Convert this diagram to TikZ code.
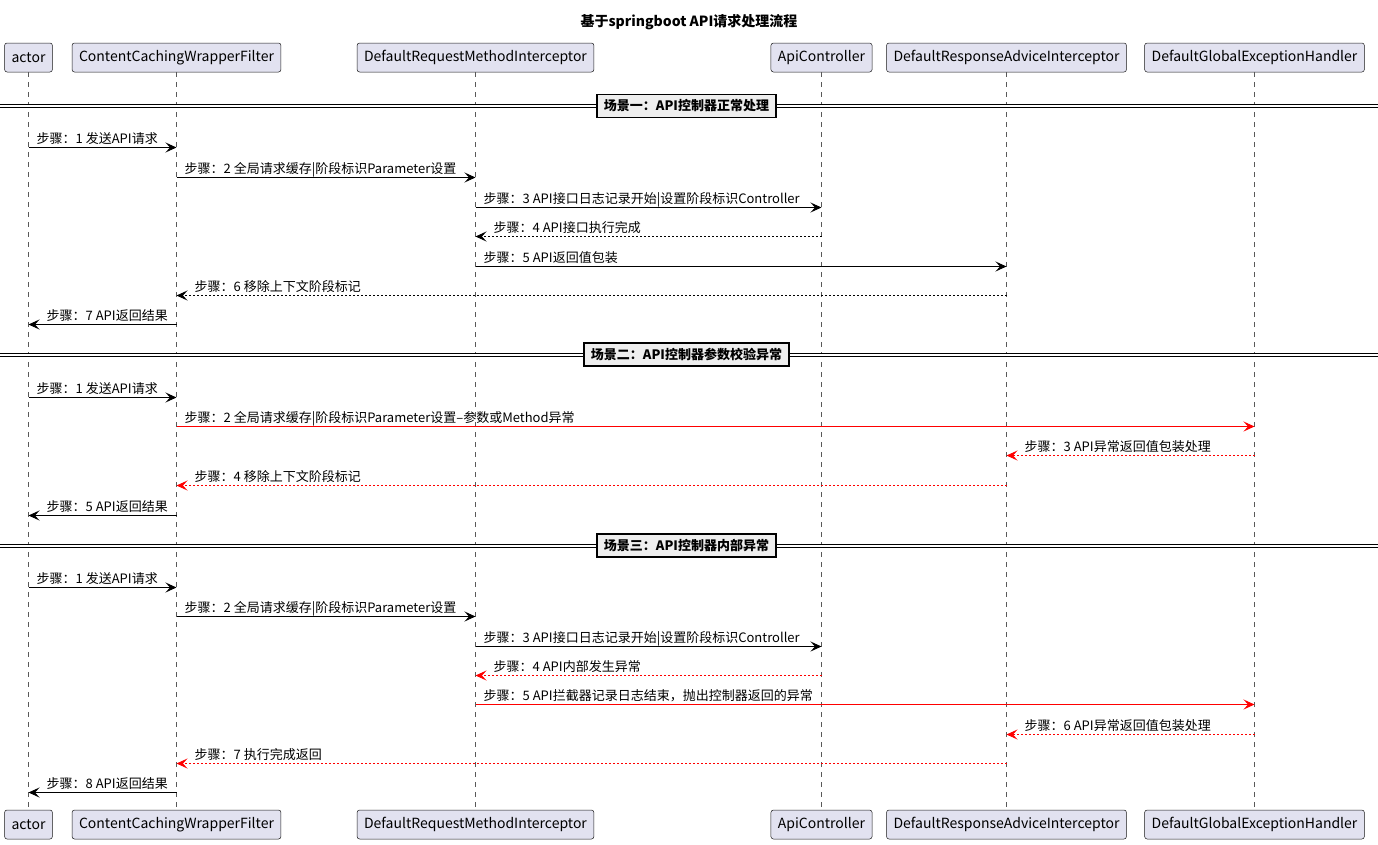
\documentclass[tikz,border=0pt]{standalone}
\usepackage{fontspec}
\setmainfont{Noto Sans CJK SC}
\usetikzlibrary{arrows.meta,calc}
\definecolor{partfill}{HTML}{E2E2F0}
\definecolor{partdraw}{HTML}{181818}
\definecolor{sepfill}{HTML}{EEEEEE}
\definecolor{errred}{HTML}{FF0000}
\newcommand\msgR[6]{%
  \draw[#5] (#2 |- 0,#4+0.5) -- (#3 |- 0,#4+0.5);
  \node[lbl] (#1) at ($(#2 |- 0,#4)+(8,-4)$) {#6};}
\newcommand\msgL[6]{%
  \draw[#5] (#2 |- 0,#4+0.5) -- (#3 |- 0,#4+0.5);
  \node[lbl] (#1) at ($(#3 |- 0,#4)+(18,-4)$) {#6};}
\newcommand\scenesep[3]{%
  \draw[double, double distance=2pt, line width=1pt] (0,#2) -- (1378,#2);
  \node[sepbox] (#1) at (686.5,#2) {#3};}
\begin{document}
\begin{tikzpicture}[x=1pt,y=-1pt,
  part/.style={draw=partdraw, fill=partfill, rounded corners=2.5pt, line width=0.5pt,
    minimum height=29pt, inner xsep=7pt, inner ysep=0pt, font=\fontsize{14}{16}\selectfont},
  life/.style={draw=black!65, line width=0.5pt, dash pattern=on 5pt off 5pt},
  msg/.style={line width=1pt, -{Stealth[length=11pt,width=10pt,inset=4.5pt]}},
  ret/.style={msg, dash pattern=on 2pt off 2pt},
  err/.style={draw=errred, color=errred},
  lbl/.style={font=\fontsize{13}{15}\selectfont, inner sep=0pt, anchor=base west},
  sepbox/.style={draw=black, line width=1.6pt, fill=sepfill,
    font=\bfseries\fontsize{13}{15}\selectfont, inner xsep=7pt, inner ysep=0pt, minimum height=23pt},
]
\useasboundingbox[fill=white] (0,0) rectangle (1378,844);
\node[font=\bfseries\fontsize{14}{16}\selectfont] (title) at (689,22) {基于springboot API请求处理流程};
% participants
\foreach \n/\x/\t in {pa/28.5/actor, pb/176.5/ContentCachingWrapperFilter, pc/475.5/DefaultRequestMethodInterceptor,
  pd/821.5/ApiController, pe/1006.5/DefaultResponseAdviceInterceptor, pf/1254.5/DefaultGlobalExceptionHandler}{
  \node[part] (\n) at (\x,57.5) {\t};
  \node[part] (\n2) at (\x,824.5) {\t};
  \draw[life] (\n.south) -- (\n2.north);
}
% scene 1
\scenesep{s1}{106}{场景一：API控制器正常处理}
\msgR{m11}{pa}{pb}{147}{msg}{步骤：1 发送API请求}
\msgR{m12}{pb}{pc}{177}{msg}{步骤：2 全局请求缓存|阶段标识Parameter设置}
\msgR{m13}{pc}{pd}{207}{msg}{步骤：3 API接口日志记录开始|设置阶段标识Controller}
\msgL{m14}{pd}{pc}{236}{ret}{步骤：4 API接口执行完成}
\msgR{m15}{pc}{pe}{266}{msg}{步骤：5 API返回值包装}
\msgL{m16}{pe}{pb}{295}{ret}{步骤：6 移除上下文阶段标记}
\msgL{m17}{pb}{pa}{324}{msg}{步骤：7 API返回结果}
% scene 2
\scenesep{s2}{354.5}{场景二：API控制器参数校验异常}
\msgR{m21}{pa}{pb}{397}{msg}{步骤：1 发送API请求}
\msgR{m22}{pb}{pf}{426}{msg,err}{步骤：2 全局请求缓存|阶段标识Parameter设置–参数或Method异常}
\msgL{m23}{pf}{pe}{455}{ret,err}{步骤：3 API异常返回值包装处理}
\msgL{m24}{pe}{pb}{485}{ret,err}{步骤：4 移除上下文阶段标记}
\msgL{m25}{pb}{pa}{515}{msg}{步骤：5 API返回结果}
% scene 3
\scenesep{s3}{545.5}{场景三：API控制器内部异常}
\msgR{m31}{pa}{pb}{587}{msg}{步骤：1 发送API请求}
\msgR{m32}{pb}{pc}{616}{msg}{步骤：2 全局请求缓存|阶段标识Parameter设置}
\msgR{m33}{pc}{pd}{646}{msg}{步骤：3 API接口日志记录开始|设置阶段标识Controller}
\msgL{m34}{pd}{pc}{675}{ret,err}{步骤：4 API内部发生异常}
\msgR{m35}{pc}{pf}{704}{msg,err}{步骤：5 API拦截器记录日志结束，抛出控制器返回的异常}
\msgL{m36}{pf}{pe}{734}{ret,err}{步骤：6 API异常返回值包装处理}
\msgL{m37}{pe}{pb}{763}{ret,err}{步骤：7 执行完成返回}
\msgL{m38}{pb}{pa}{792}{msg}{步骤：8 API返回结果}
\end{tikzpicture}
\end{document}
